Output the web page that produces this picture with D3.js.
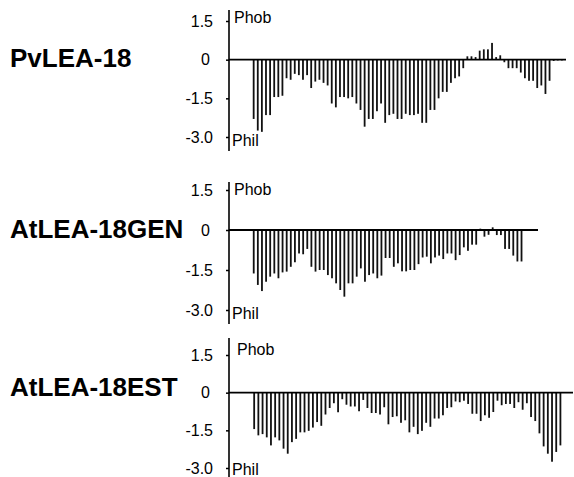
<!DOCTYPE html>
<html><head><meta charset="utf-8">
<script src="https://cdn.jsdelivr.net/npm/d3@7"></script>
<style>body{margin:0;background:#fff}svg{display:block}text{font-family:"Liberation Sans",Arial,Helvetica,sans-serif}</style>
</head><body>
<script>
const categories = ["PvLEA-18", "AtLEA-18GEN", "AtLEA-18EST"];
const tickValues = [1.5, 0, -1.5, -3.0];
const tickLabels = ["1.5", "0", "-1.5", "-3.0"];
const axisLabels = ["Phob", "Phil"];
const seqLengths = [82, 75, 82];
const startOffset = 6;

const pvlea18 = [-2.3, -2.75, -2.8, -2.15, -2.15, -1.45, -1.45, -1.4, -0.72, -0.78,
  -0.55, -0.6, -0.78, -0.6, -1.1, -0.85, -0.78, -0.9, -1.0, -1.7,
  -1.85, -1.45, -1.45, -1.5, -1.45, -1.7, -1.95, -2.6, -2.3,
  -2.3, -2.0, -1.7, -2.45, -2.15, -2.1, -2.3, -2.3, -2.1, -2.15,
  -2.15, -2.1, -2.45, -2.45, -1.95, -1.95, -1.5, -1.25, -1.25, -0.9,
  -0.72, -0.65, -0.33, 0.13, 0.13, 0.1, 0.35, 0.4, 0.4, 0.65,
  0.1, 0.17, -0.1, -0.33, -0.33, -0.33, -0.5, -0.72, -0.82, -0.82,
  -1.1, -1.0, -1.33, -0.82, -0.05, -0.03, -0.03];

const atlea18gen = [-1.63, -2.06, -2.29, -1.94, -1.75, -1.63, -1.81, -1.59, -1.56, -1.38,
  -1.21, -0.88, -0.91, -0.71, -1.38, -1.56, -1.5, -1.5, -1.69, -1.81,
  -2.0, -2.25, -2.5, -2.0, -2.0, -1.75, -1.44, -1.94, -1.69, -1.63, -1.81,
  -1.71, -1.05, -1.05, -1.38, -1.25, -1.55, -1.55, -1.5, -1.5, -1.28,
  -1.03, -1.0, -1.25, -1.03, -0.96, -1.09, -0.88, -0.88, -1.13, -0.94,
  -0.65, -0.78, -0.55, -0.55, 0.05, -0.25, -0.18, 0.1, -0.19, -0.19,
  -0.71, -0.71, -0.96, -1.18, -1.18];

const atlea18est = [-1.45, -1.7, -1.65, -1.78, -2.1, -1.78, -1.9, -2.23, -2.43, -1.97,
  -1.84, -1.58, -1.58, -1.52, -1.39, -1.17, -1.32, -0.87, -0.61, -0.42,
  -0.78, -0.26, -0.48, -0.55, -0.55, -0.74, -0.29, -0.61, -0.81, -0.81, -0.87,
  -0.58, -1.26, -0.97, -0.94, -1.2, -1.1, -1.58, -1.36, -1.65, -1.52,
  -1.2, -1.36, -1.03, -1.03, -0.9, -0.61, -0.58, -0.35, -0.38, -0.32,
  -0.45, -0.84, -0.84, -1.13, -0.9, -1.0, -0.77, -0.32, -0.5, -0.45,
  -0.45, -0.61, -0.38, -0.68, -0.42, -0.97, -1.13, -1.62, -2.14, -2.43,
  -2.75, -2.36, -2.1];

const seriesList = [pvlea18, atlea18gen, atlea18est];

// layout (pixels)
const W = 574, H = 477, axisX = 229;
const layout = [
  {yRange: [21, 137], lineEnd: 566, axisTop: 10, axisBottom: 151, titleY: 67, phobX: 234, phobY: 23, philY: 146},
  {yRange: [190, 310], lineEnd: 538, axisTop: 182, axisBottom: 324, titleY: 238, phobX: 234, phobY: 195, philY: 319},
  {yRange: [355, 468], lineEnd: 573, axisTop: 338, axisBottom: 477, titleY: 396, phobX: 237, phobY: 355, philY: 475}
];

const svg = d3.select("body").append("svg").attr("width", W).attr("height", H);

seriesList.forEach((vals, k) => {
  const L = layout[k];
  const g = svg.append("g");
  const x = d3.scaleLinear().domain([0, seqLengths[k]]).range([axisX, L.lineEnd]);
  const y = d3.scaleLinear().domain([tickValues[0], tickValues[tickValues.length - 1]]).range(L.yRange);

  // title
  g.append("text").attr("x", 10).attr("y", L.titleY)
    .attr("font-size", 26).attr("font-weight", "bold").attr("fill", "#000")
    .text(categories[k]);

  // bars
  g.selectAll("rect.bar").data(vals).join("rect").attr("class", "bar")
    .attr("x", (d, i) => x(i + startOffset) - 0.9)
    .attr("width", 1.8)
    .attr("y", d => Math.min(y(0), y(d)))
    .attr("height", d => Math.abs(y(d) - y(0)))
    .attr("fill", "#111");

  // zero line
  g.append("line").attr("x1", x(0)).attr("x2", L.lineEnd)
    .attr("y1", y(0)).attr("y2", y(0))
    .attr("stroke", "#000").attr("stroke-width", 1.8);

  // axis
  const ax = d3.axisLeft(y).tickValues(tickValues)
    .tickFormat((d, i) => tickLabels[i]).tickSize(3).tickPadding(13);
  const axG = g.append("g").attr("transform", `translate(${axisX},0)`).call(ax);
  axG.select(".domain").remove();
  axG.selectAll(".tick line").attr("stroke", "#000").attr("stroke-width", 1.5);
  axG.selectAll(".tick text").attr("font-size", 16).attr("fill", "#000")
    .attr("font-family", "'Liberation Sans', Arial, sans-serif")
    .attr("dx", d => d === 0 ? -3 : 0);
  g.append("line").attr("x1", axisX).attr("x2", axisX)
    .attr("y1", L.axisTop).attr("y2", L.axisBottom)
    .attr("stroke", "#000").attr("stroke-width", 1.6);

  g.append("text").attr("x", L.phobX).attr("y", L.phobY).attr("font-size", 16).attr("fill", "#000").text(axisLabels[0]);
  g.append("text").attr("x", axisX + 3).attr("y", L.philY).attr("font-size", 16).attr("fill", "#000").text(axisLabels[1]);
});
</script>
</body></html>
